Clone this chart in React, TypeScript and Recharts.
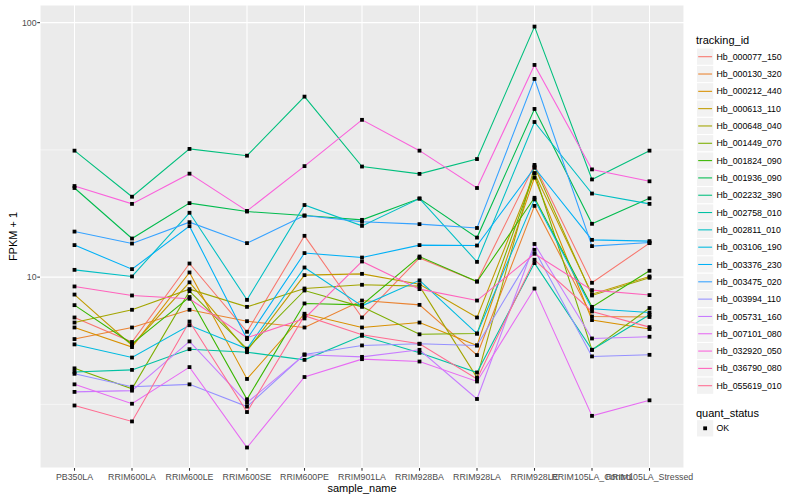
import React from 'react';
import { LineChart, Line, XAxis, YAxis, CartesianGrid, ReferenceLine, Customized } from 'recharts';

const categories = ['PB350LA', 'RRIM600LA', 'RRIM600LE', 'RRIM600SE', 'RRIM600PE', 'RRIM901LA', 'RRIM928BA', 'RRIM928LA', 'RRIM928LE', 'RRIM105LA_Control', 'RRIM105LA_Stressed'];

const trackingIds = ['Hb_000077_150', 'Hb_000130_320', 'Hb_000212_440', 'Hb_000613_110', 'Hb_000648_040', 'Hb_001449_070', 'Hb_001824_090', 'Hb_001936_090', 'Hb_002232_390', 'Hb_002758_010', 'Hb_002811_010', 'Hb_003106_190', 'Hb_003376_230', 'Hb_003475_020', 'Hb_003994_110', 'Hb_005731_160', 'Hb_007101_080', 'Hb_032920_050', 'Hb_036790_080', 'Hb_055619_010'];

const colors = ['#F8766D', '#EA8331', '#D89000', '#C09B00', '#A3A500', '#7CAE00', '#39B600', '#00BB4E', '#00BF7D', '#00C1A3', '#00BFC4', '#00BAE0', '#00B0F6', '#35A2FF', '#9590FF', '#C77CFF', '#E76BF3', '#FA62DB', '#FF62BC', '#FF6C91'];

const hb000077 = [6.94, 5.56, 11.31, 6.1, 14.53, 6.94, 11.9, 9.61, 27.6, 9.5, 13.6];
const hb000130 = [5.71, 6.34, 7.44, 6.71, 6.34, 8.09, 7.78, 4.94, 19.05, 7.0, 6.97];
const hb000212 = [6.34, 5.31, 10.43, 3.98, 7.18, 6.34, 6.63, 5.39, 24.6, 6.78, 6.25];
const hb000613 = [8.54, 5.39, 9.54, 5.13, 10.18, 10.3, 9.37, 6.94, 25.6, 8.57, 10.06];
const hb000648 = [6.63, 7.44, 8.97, 7.64, 9.02, 9.33, 9.22, 4.03, 27.2, 8.47, 9.94];
const hb001449 = [4.38, 3.64, 8.81, 5.23, 8.86, 7.64, 5.96, 6.0, 25.6, 5.18, 7.56];
const hb001824 = [7.76, 5.47, 8.35, 3.31, 7.88, 7.78, 12.05, 9.61, 20.5, 7.64, 10.59];
const hb001936 = [22.4, 14.18, 19.53, 18.1, 17.45, 16.79, 20.36, 14.3, 45.8, 16.2, 20.4];
const hb002232 = [31.4, 20.7, 31.9, 30.0, 51.2, 27.2, 25.45, 29.1, 96.5, 24.2, 31.4];
const hb002758 = [4.24, 4.32, 5.21, 5.07, 4.73, 5.88, 5.04, 4.22, 11.35, 5.18, 7.11];
const hb002811 = [10.68, 10.06, 17.9, 8.14, 19.2, 15.9, 20.36, 11.48, 40.7, 21.3, 19.4];
const hb003106 = [5.44, 4.83, 6.47, 5.23, 10.91, 7.71, 9.71, 6.0, 20.2, 7.51, 7.26];
const hb003376 = [13.36, 10.75, 15.86, 5.71, 12.43, 11.94, 13.36, 13.31, 26.9, 14.01, 13.85];
const hb003475 = [15.1, 13.55, 16.44, 13.6, 17.45, 16.5, 16.15, 15.6, 60.1, 13.24, 13.67];
const hb003994 = [4.17, 3.71, 3.79, 3.1, 4.97, 5.39, 5.47, 5.39, 12.8, 4.88, 4.95];
const hb005731 = [3.54, 3.58, 5.59, 3.21, 4.95, 4.86, 5.18, 3.32, 13.5, 5.74, 5.83];
const hb007101 = [3.79, 3.18, 4.43, 2.14, 4.05, 4.76, 4.66, 3.89, 9.02, 2.85, 3.28];
const hb032920 = [22.8, 19.4, 25.5, 18.2, 27.3, 41.5, 31.4, 22.4, 68.2, 26.5, 23.8];
const hb036790 = [9.19, 8.47, 8.22, 5.78, 6.88, 11.52, 8.97, 8.09, 12.35, 8.89, 8.5];
const hb055619 = [3.13, 2.71, 6.69, 2.95, 7.05, 5.94, 5.47, 3.98, 11.7, 7.33, 6.36];

const seriesValues = [hb000077, hb000130, hb000212, hb000613, hb000648, hb001449, hb001824, hb001936, hb002232, hb002758, hb002811, hb003106, hb003376, hb003475, hb003994, hb005731, hb007101, hb032920, hb036790, hb055619];

const yTicks = [10, 100];
const minorTicks = [3.1623, 31.623];
const statusLabels = ['OK'];

const data = categories.map((c, i) => {
  const row: Record<string, any> = { sample_name: c };
  trackingIds.forEach((id, j) => {
    row[id] = seriesValues[j][i];
  });
  return row;
});

const FONT = '"Liberation Sans", Arial, Helvetica, sans-serif';

const SquareDot = (props: any) => {
  const { cx, cy, index, dataKey } = props;
  if (cx == null || cy == null) return <g key={`${dataKey}-${index}`} />;
  return <rect key={`${dataKey}-${index}`} x={cx - 1.9} y={cy - 1.9} width={3.8} height={3.8} fill="#000000" />;
};

const Decorations = () => {
  const keyX = 696.5;
  const keyW = 17.28;
  const firstY = 56.7;
  const step = 17.316;
  return (
    <g style={{ fontFamily: FONT }}>
      <text x={362} y={492} textAnchor="middle" fontSize={11} fill="#000">sample_name</text>
      <text x={17} y={236.5} textAnchor="middle" fontSize={11} fill="#000" transform="rotate(-90 17 236.5)">FPKM + 1</text>
      <text x={696} y={44} fontSize={11} fill="#000">tracking_id</text>
      {trackingIds.map((id, i) => {
        const cy = firstY + i * step;
        return (
          <g key={id}>
            <rect x={keyX} y={cy - keyW / 2} width={keyW} height={keyW} fill="#F2F2F2" stroke="#FFFFFF" strokeWidth={1} />
            <line x1={keyX + 1.7} x2={keyX + keyW - 1.7} y1={cy} y2={cy} stroke={colors[i]} strokeWidth={1.07} />
            <text x={716.5} y={cy + 3.1} fontSize={8.8} fill="#000">{id}</text>
          </g>
        );
      })}
      <text x={696} y={416.5} fontSize={11} fill="#000">quant_status</text>
      {statusLabels.map((s, i) => {
        const cy = 428.3 + i * step;
        return (
          <g key={s}>
            <rect x={keyX} y={cy - keyW / 2} width={keyW} height={keyW} fill="#F2F2F2" stroke="#FFFFFF" strokeWidth={1} />
            <rect x={keyX + keyW / 2 - 1.9} y={cy - 1.9} width={3.8} height={3.8} fill="#000" />
            <text x={716.5} y={cy + 3.1} fontSize={8.8} fill="#000">{s}</text>
          </g>
        );
      })}
    </g>
  );
};

export default function App() {
  return (
    <div style={{ position: 'absolute', left: 0, top: 0, width: 800, height: 500, background: '#FFFFFF' }}>
      <LineChart width={800} height={500} data={data} margin={{ top: 5, right: 116, bottom: 0, left: 0 }}>
        <CartesianGrid fill="#EBEBEB" stroke="#FFFFFF" strokeWidth={1.07} />
        {minorTicks.map((v) => (
          <ReferenceLine key={v} y={v} stroke="#FFFFFF" strokeWidth={0.53} ifOverflow="hidden" />
        ))}
        <XAxis
          dataKey="sample_name"
          type="category"
          interval={0}
          padding={{ left: 34.5, right: 34.5 }}
          axisLine={false}
          tickLine={{ stroke: '#333333', strokeWidth: 1.07 }}
          tickSize={2.75}
          tickMargin={3}
          height={32}
          tick={{ fontSize: 8.8, fill: '#4D4D4D', fontFamily: FONT }}
        />
        <YAxis
          type="number"
          scale="log"
          domain={[1.778, 117.3]}
          allowDataOverflow
          ticks={yTicks}
          width={40}
          axisLine={false}
          tickLine={{ stroke: '#333333', strokeWidth: 1.07 }}
          tickSize={2.75}
          tickMargin={0.6}
          tick={{ fontSize: 8.8, fill: '#4D4D4D', fontFamily: FONT }}
        />
        {trackingIds.map((id, i) => (
          <Line key={id} type="linear" dataKey={id} stroke={colors[i]} strokeWidth={1.07} dot={false} activeDot={false} isAnimationActive={false} />
        ))}
        {trackingIds.map((id) => (
          <Line key={`${id}-pts`} type="linear" dataKey={id} stroke="none" strokeWidth={0} dot={SquareDot} activeDot={false} isAnimationActive={false} legendType="none" />
        ))}
        <Customized component={Decorations} />
      </LineChart>
    </div>
  );
}
